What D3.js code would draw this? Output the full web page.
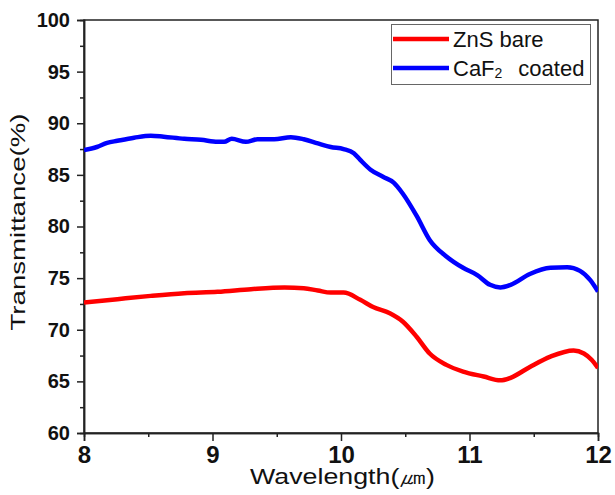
<!DOCTYPE html>
<html>
<head>
<meta charset="utf-8">
<script src="https://cdn.jsdelivr.net/npm/d3@7"></script>
<style>
  body { margin: 0; background: #fff; }
  text { font-family: "Liberation Sans", Arial, sans-serif; }
</style>
</head>
<body>
<div id="canvas"></div>
<script>
// Transmittance vs wavelength, ZnS bare vs CaF2 coated

const width = 615, height = 495;
const margin = { top: 20, right: 17, bottom: 62, left: 84 };

// wavelength (um) and transmittance (%)
const blueWl = [8.0, 8.10, 8.18, 8.26, 8.39, 8.52, 8.62, 8.78, 8.91, 9.04, 9.09, 9.15, 9.26, 9.35, 9.48,
  9.61, 9.71, 9.82, 9.92, 10.02, 10.10, 10.15, 10.23, 10.33, 10.41, 10.48, 10.59, 10.69, 10.82, 10.95,
  11.06, 11.16, 11.24, 11.32, 11.47, 11.63, 11.76, 11.86, 11.94, 12.0];
const blueT = [87.4, 87.7, 88.1, 88.3, 88.6, 88.8, 88.7, 88.5, 88.4, 88.2, 88.2, 88.5, 88.2, 88.45, 88.45,
  88.65, 88.45, 88.05, 87.7, 87.5, 87.1, 86.45, 85.5, 84.8, 84.25, 83.2, 81.0, 78.7, 77.1, 76.0,
  75.3, 74.35, 74.1, 74.35, 75.4, 76.0, 76.05, 75.7, 74.8, 73.7];

const redWl = [8.0, 8.26, 8.52, 8.78, 9.04, 9.30, 9.56, 9.71, 9.82, 9.92, 10.02, 10.15, 10.25, 10.38,
  10.48, 10.59, 10.69, 10.82, 10.95, 11.11, 11.24, 11.32, 11.47, 11.63, 11.81, 11.89, 11.95, 12.0];
const redT = [72.63, 72.96, 73.28, 73.54, 73.67, 73.93, 74.09, 74.03, 73.8, 73.6, 73.6, 72.9, 72.2, 71.6,
  70.8, 69.3, 67.7, 66.6, 65.95, 65.47, 65.1, 65.35, 66.4, 67.4, 68.0, 67.7, 67.1, 66.3];

const xTicks = [8, 9, 10, 11, 12];
const yTicks = [60, 65, 70, 75, 80, 85, 90, 95, 100];
const seriesNames = ["ZnS bare", "CaF2 coated"];

const svg = d3.select("#canvas").append("svg")
  .attr("width", width).attr("height", height)
  .style("background", "#fff");

const x = d3.scaleLinear().domain([8, 12]).range([margin.left, width - margin.right]);
const y = d3.scaleLinear().domain([60, 100]).range([height - margin.bottom, margin.top]);

// frame (top + right)
svg.append("rect")
  .attr("x", x(8)).attr("y", y(100))
  .attr("width", x(12) - x(8)).attr("height", y(60) - y(100))
  .attr("fill", "none").attr("stroke", "#222").attr("stroke-width", 1.5);

// minor ticks
const gx = svg.append("g").attr("transform", `translate(0,${y(60)})`);
gx.call(d3.axisBottom(x).tickValues(d3.range(8.5, 12, 1)).tickSize(4).tickFormat(""));
const gy = svg.append("g").attr("transform", `translate(${x(8)},0)`);
gy.call(d3.axisLeft(y).tickValues(d3.range(62.5, 100, 5)).tickSize(4).tickFormat(""));

// major ticks
const gx2 = svg.append("g").attr("transform", `translate(0,${y(60)})`)
  .call(d3.axisBottom(x).tickValues(xTicks).tickSize(8).tickPadding(5).tickFormat(d3.format("d")));
gx2.selectAll("text").attr("font-size", 24).attr("font-weight", "bold").attr("fill", "#111")
  .attr("font-family", "'Liberation Sans', Arial, sans-serif");

const gy2 = svg.append("g").attr("transform", `translate(${x(8)},0)`)
  .call(d3.axisLeft(y).tickValues(yTicks).tickSize(7).tickPadding(7).tickFormat(d3.format("d")));
gy2.selectAll("text").attr("font-size", 20).attr("font-weight", "bold").attr("fill", "#111")
  .attr("font-family", "'Liberation Sans', Arial, sans-serif");

svg.selectAll(".domain").attr("stroke", "#222").attr("stroke-width", 1.5);
svg.selectAll(".tick line").attr("stroke", "#222").attr("stroke-width", 1.5);

// lines
const line = d3.line().curve(d3.curveMonotoneX).x(d => x(d[0])).y(d => y(d[1]));
svg.append("clipPath").attr("id", "clip").append("rect")
  .attr("x", x(8)).attr("y", y(100)).attr("width", x(12) - x(8)).attr("height", y(60) - y(100));

svg.append("path").datum(redWl.map((w, i) => [w, redT[i]]))
  .attr("d", line).attr("fill", "none").attr("stroke", "#ff0000").attr("stroke-width", 4.5)
  .attr("clip-path", "url(#clip)");
svg.append("path").datum(blueWl.map((w, i) => [w, blueT[i]]))
  .attr("d", line).attr("fill", "none").attr("stroke", "#0000ff").attr("stroke-width", 4.5)
  .attr("clip-path", "url(#clip)");

// axis titles
svg.append("text")
  .attr("x", 250).attr("y", 484)
  .attr("font-size", 22).attr("fill", "#111")
  .attr("textLength", 185).attr("lengthAdjust", "spacingAndGlyphs")
  .text("Wavelength(㎛)");

svg.append("text")
  .attr("transform", "translate(25,222) rotate(-90)")
  .attr("text-anchor", "middle")
  .attr("font-size", 21).attr("fill", "#111")
  .attr("textLength", 217).attr("lengthAdjust", "spacingAndGlyphs")
  .text("Transmittance(%)");

// legend
const lg = svg.append("g");
lg.append("rect").attr("x", 391.5).attr("y", 24.5).attr("width", 199).attr("height", 60)
  .attr("fill", "#fff").attr("stroke", "#666").attr("stroke-width", 1);
const colors = ["#ff0000", "#0000ff"];
const rows = [39, 68];
seriesNames.forEach((name, i) => {
  lg.append("line").attr("x1", 393).attr("x2", 449).attr("y1", rows[i]).attr("y2", rows[i])
    .attr("stroke", colors[i]).attr("stroke-width", 4.5);
});
lg.append("text").attr("x", 453).attr("y", rows[0] + 8).attr("font-size", 22).attr("fill", "#111")
  .text(seriesNames[0]);
const t2 = lg.append("text").attr("x", 453).attr("y", rows[1] + 8).attr("font-size", 22).attr("fill", "#111");
t2.append("tspan").text("CaF");
t2.append("tspan").attr("font-size", 14).attr("dy", 2).text("2");
t2.append("tspan").attr("dy", -2).attr("dx", 16).text("coated");
</script>
</body>
</html>
